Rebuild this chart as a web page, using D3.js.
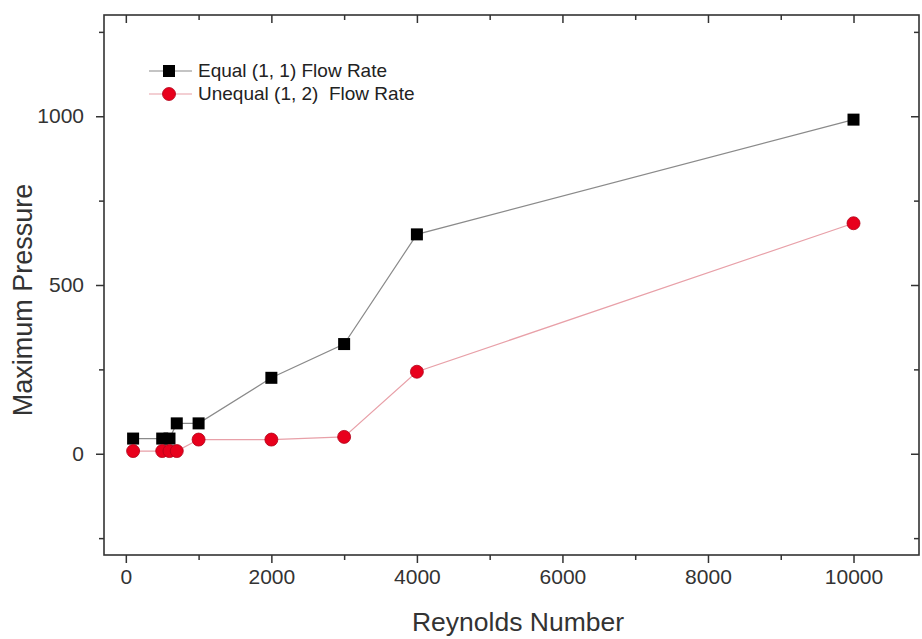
<!DOCTYPE html>
<html>
<head>
<meta charset="utf-8">
<script src="https://cdn.jsdelivr.net/npm/d3@7"></script>
<style>
  body { margin: 0; background: #fff; }
  text { font-family: "Liberation Sans", Arial, sans-serif; }
</style>
</head>
<body>
<div id="chart"></div>
<script>
// Series
const equalX = [100, 500, 600, 700, 1000, 2000, 3000, 4000, 10000];
const equalY = [45, 45, 45, 90, 90, 225, 325, 650, 990];
const unequalX = [100, 500, 600, 700, 1000, 2000, 3000, 4000, 10000];
const unequalY = [8, 8, 8, 8, 42, 42, 50, 243, 683];

const xTicks = [0, 2000, 4000, 6000, 8000, 10000];
const xMinor = [1000, 3000, 5000, 7000, 9000];
const yTicks = [0, 500, 1000];
const yMinor = [-250, 250, 750, 1250];

const seriesNames = ["Equal (1, 1) Flow Rate", "Unequal (1, 2)  Flow Rate"];

// Dimensions
const W = 922, H = 639;
const margin = { top: 15, right: 3, bottom: 84, left: 104 };
const width = W - margin.left - margin.right;
const height = H - margin.top - margin.bottom;

const svg = d3.select("#chart")
    .append("svg")
    .attr("width", W)
    .attr("height", H);

const g = svg.append("g")
    .attr("transform", `translate(${margin.left}, ${margin.top})`);

const x = d3.scaleLinear().domain([-300, 10900]).range([0, width]);
const y = d3.scaleLinear().domain([-300, 1300]).range([height, 0]);

// Axes (outer ticks on bottom / left)
g.append("g")
    .attr("transform", `translate(0, ${height})`)
    .call(d3.axisBottom(x).tickValues(xTicks).tickFormat(d3.format("d")).tickSize(8).tickPadding(6));
g.append("g")
    .attr("transform", `translate(0, ${height})`)
    .call(d3.axisBottom(x).tickValues(xMinor).tickFormat("").tickSize(5));

g.append("g")
    .call(d3.axisLeft(y).tickValues(yTicks).tickFormat(d3.format("d")).tickSize(8).tickPadding(12));
g.append("g")
    .call(d3.axisLeft(y).tickValues(yMinor).tickFormat("").tickSize(5));

// Mirrored inner ticks on top / right
g.append("g")
    .call(d3.axisTop(x).tickValues(xTicks).tickFormat("").tickSize(-8));
g.append("g")
    .call(d3.axisTop(x).tickValues(xMinor).tickFormat("").tickSize(-5));
g.append("g")
    .attr("transform", `translate(${width}, 0)`)
    .call(d3.axisRight(y).tickValues(yTicks).tickFormat("").tickSize(-8));
g.append("g")
    .attr("transform", `translate(${width}, 0)`)
    .call(d3.axisRight(y).tickValues(yMinor).tickFormat("").tickSize(-5));

g.selectAll(".domain").remove();
g.selectAll(".tick line").attr("stroke", "#333").attr("stroke-width", 1.5);
g.selectAll(".tick text")
    .style("font-size", "21px")
    .attr("fill", "#333");

// Frame
g.append("rect")
    .attr("x", 0).attr("y", 0)
    .attr("width", width).attr("height", height)
    .attr("fill", "none")
    .attr("stroke", "#333")
    .attr("stroke-width", 1.6);

// Lines
const eq = equalX.map((v, i) => [v, equalY[i]]);
const uneq = unequalX.map((v, i) => [v, unequalY[i]]);
const line = d3.line().x(d => x(d[0])).y(d => y(d[1]));

g.append("path").datum(eq)
    .attr("d", line).attr("fill", "none")
    .attr("stroke", "#8a8a8a").attr("stroke-width", 1.2);
g.append("path").datum(uneq)
    .attr("d", line).attr("fill", "none")
    .attr("stroke", "#e8a0a8").attr("stroke-width", 1.2);

// Markers
const sq = 12;
g.selectAll(".sq").data(eq).enter().append("rect")
    .attr("x", d => x(d[0]) - sq / 2)
    .attr("y", d => y(d[1]) - sq / 2)
    .attr("width", sq).attr("height", sq)
    .attr("fill", "#000");

g.selectAll(".ci").data(uneq).enter().append("circle")
    .attr("cx", d => x(d[0]))
    .attr("cy", d => y(d[1]))
    .attr("r", 6.5)
    .attr("fill", "#e8001c")
    .attr("stroke", "#b00018").attr("stroke-width", 0.8);

// Legend
const leg = svg.append("g");
const rows = [71, 94];
rows.forEach((ry, i) => {
    leg.append("line")
        .attr("x1", 149).attr("x2", 192).attr("y1", ry).attr("y2", ry)
        .attr("stroke", i === 0 ? "#8a8a8a" : "#e8a0a8").attr("stroke-width", 1.2);
    if (i === 0) {
        leg.append("rect").attr("x", 169 - sq / 2).attr("y", ry - sq / 2)
            .attr("width", sq).attr("height", sq).attr("fill", "#000");
    } else {
        leg.append("circle").attr("cx", 169).attr("cy", ry).attr("r", 6.5)
            .attr("fill", "#e8001c").attr("stroke", "#b00018").attr("stroke-width", 0.8);
    }
    leg.append("text")
        .attr("x", 198).attr("y", ry + 6)
        .style("font-size", "19px")
        .style("white-space", "pre")
        .attr("fill", "#222")
        .text(seriesNames[i]);
});

// Axis titles
svg.append("text")
    .attr("x", 518).attr("y", 631)
    .attr("text-anchor", "middle")
    .style("font-size", "26.5px")
    .attr("fill", "#333")
    .text("Reynolds Number");

svg.append("text")
    .attr("transform", "translate(32, 300) rotate(-90)")
    .attr("text-anchor", "middle")
    .style("font-size", "27px")
    .attr("fill", "#333")
    .text("Maximum Pressure");
</script>
</body>
</html>
